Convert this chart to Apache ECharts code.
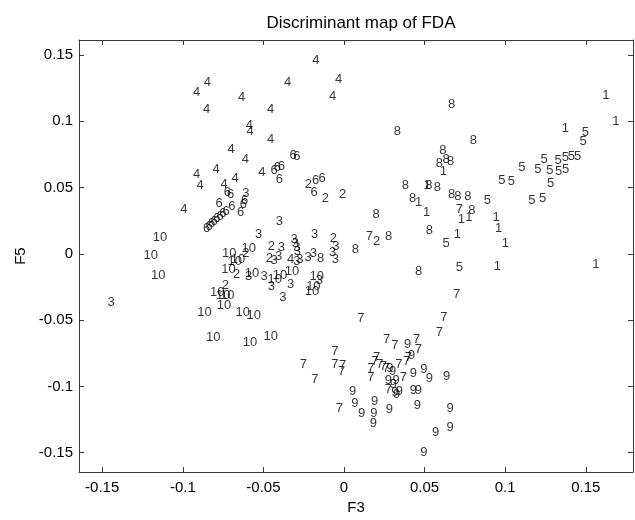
<!DOCTYPE html>
<html>
<head>
<meta charset="utf-8">
<title>Discriminant map of FDA</title>
<script src="https://cdn.jsdelivr.net/npm/echarts@6/dist/echarts.min.js"></script>
<style>
  html, body { margin: 0; padding: 0; width: 100%; height: 100%; background: #fff; }
  #chart { width: 635px; height: 520px; }
</style>
</head>
<body>
<div id="chart"></div>
<script>
// tick labels
var xTicks = [-0.15, -0.1, -0.05, 0, 0.05, 0.1, 0.15];
var yTicks = [-0.15, -0.1, -0.05, 0, 0.05, 0.1, 0.15];

// class names (drawn as text markers)
var classNames = ['1', '2', '3', '4', '5', '6', '7', '8', '9', '10'];

// [F3, F5] per class
var cls1 = [[0.1625,0.1193],[0.1687,0.0996],[0.1373,0.0946],[0.0616,0.0624],[0.0515,0.0515],
  [0.0463,0.0391],[0.0513,0.0316],[0.0728,0.0262],[0.0774,0.0272],[0.0703,0.0149],
  [0.0943,0.0277],[0.0960,0.0190],[0.1001,0.0079],[0.0951,-0.0094],[0.1563,-0.0082]];
var cls2 = [[-0.0221,0.0525],[-0.0116,0.0420],[-0.0008,0.0450],[-0.0066,0.0114],[-0.0451,0.0054],
  [-0.0608,0.0005],[-0.0463,-0.0035],[-0.0666,-0.0154],[-0.0736,-0.0238],[0.0203,0.0091]];
var cls3 = [[-0.0401,0.0247],[-0.0529,0.0143],[-0.0182,0.0149],[-0.0310,0.0108],[-0.0302,0.0079],
  [-0.0293,0.0049],[-0.0290,0.0017],[-0.0050,0.0054],[-0.0070,0.0010],[-0.0054,-0.0045],
  [-0.0389,0.0045],[-0.0434,-0.0050],[-0.0405,-0.0020],[-0.0293,-0.0059],[-0.0273,-0.0040],
  [-0.0223,-0.0030],[-0.0190,0.0000],[-0.0591,-0.0174],[-0.0496,-0.0174],[-0.0451,-0.0243],
  [-0.0331,-0.0233],[-0.0153,-0.0198],[-0.0380,-0.0332],[-0.1444,-0.0367],[-0.0608,0.0455]];
var cls4 = [[-0.0174,0.1461],[-0.0033,0.1315],[-0.0070,0.1189],[-0.0349,0.1293],[-0.0848,0.1293],
  [-0.0914,0.1218],[-0.0635,0.1181],[-0.0852,0.1087],[-0.0455,0.1087],[-0.0587,0.0966],
  [-0.0583,0.0926],[-0.0455,0.0864],[-0.0701,0.0785],[-0.0612,0.0710],[-0.0794,0.0641],
  [-0.0914,0.0599],[-0.0509,0.0617],[-0.0676,0.0567],[-0.0744,0.0522],[-0.0893,0.0519],
  [-0.0993,0.0337],[-0.0331,-0.0045]];
var cls5 = [[0.1497,0.0916],[0.1484,0.0847],[0.1241,0.0710],[0.1328,0.0703],[0.1373,0.0728],
  [0.1410,0.0736],[0.1450,0.0738],[0.1104,0.0654],[0.1203,0.0636],[0.1278,0.0629],
  [0.1332,0.0619],[0.1375,0.0636],[0.0980,0.0556],[0.1038,0.0545],[0.1282,0.0532],
  [0.0889,0.0406],[0.1166,0.0406],[0.1233,0.0421],[0.0633,0.0079],[0.0715,-0.0100]];
var cls6 = [[-0.0315,0.0743],[-0.0293,0.0733],[-0.0434,0.0629],[-0.0414,0.0654],[-0.0389,0.0663],
  [-0.0401,0.0565],[-0.0176,0.0554],[-0.0136,0.0569],[-0.0186,0.0465],[-0.0724,0.0461],
  [-0.0703,0.0450],[-0.0695,0.0361],[-0.0774,0.0381],[-0.0641,0.0312],[-0.0616,0.0406],
  [-0.0625,0.0376],[-0.0852,0.0190],[-0.0837,0.0210],[-0.0822,0.0229],[-0.0806,0.0247],
  [-0.0788,0.0266],[-0.0769,0.0285],[-0.0751,0.0303],[-0.0732,0.0318]];
var cls7 = [[0.0715,0.0337],[0.0157,0.0134],[0.0699,-0.0308],[0.0104,-0.0490],[0.0620,-0.0478],
  [0.0591,-0.0594],[0.0265,-0.0644],[0.0316,-0.0689],[0.0451,-0.0644],[0.0461,-0.0718],
  [0.0399,-0.0783],[0.0389,-0.0813],[-0.0056,-0.0738],[-0.0252,-0.0837],[-0.0056,-0.0832],
  [-0.0008,-0.0842],[-0.0014,-0.0887],[-0.0180,-0.0949],[0.0203,-0.0783],[0.0192,-0.0808],
  [0.0223,-0.0837],[0.0244,-0.0850],[0.0261,-0.0862],[0.0341,-0.0837],[0.0166,-0.0862],
  [0.0166,-0.0936],[0.0368,-0.0932],[0.0275,-0.1023],[-0.0029,-0.1169]];
var cls8 = [[-0.0145,-0.0035],[0.0668,0.1131],[0.0331,0.0921],[0.0802,0.0859],[0.0614,0.0780],
  [0.0633,0.0710],[0.0662,0.0698],[0.0591,0.0686],[0.0380,0.0515],[0.0527,0.0515],
  [0.0579,0.0500],[0.0668,0.0446],[0.0707,0.0435],[0.0769,0.0435],[0.0426,0.0416],
  [0.0794,0.0327],[0.0199,0.0297],[0.0529,0.0178],[0.0277,0.0134],[0.0070,0.0034],
  [0.0463,-0.0134]];
var cls9 = [[0.0395,-0.0681],[0.0420,-0.0768],[0.0285,-0.0862],[0.0302,-0.0887],[0.0430,-0.0906],
  [0.0496,-0.0874],[0.0529,-0.0941],[0.0637,-0.0926],[0.0275,-0.0956],[0.0323,-0.0956],
  [0.0306,-0.0986],[0.0316,-0.1048],[0.0327,-0.1060],[0.0343,-0.1040],[0.0430,-0.1030],
  [0.0461,-0.1030],[0.0054,-0.1036],[0.0190,-0.1114],[0.0068,-0.1129],[0.0110,-0.1204],
  [0.0186,-0.1204],[0.0182,-0.1278],[0.0281,-0.1174],[0.0455,-0.1147],[0.0658,-0.1166],
  [0.0658,-0.1313],[0.0569,-0.1348],[0.0496,-0.1496]];
var cls10 = [[-0.0591,0.0039],[-0.0712,0.0000],[-0.0678,-0.0055],[-0.0658,-0.0045],[-0.0716,-0.0114],
  [-0.0571,-0.0144],[-0.0430,-0.0193],[-0.0397,-0.0159],[-0.0323,-0.0129],[-0.0169,-0.0169],
  [-0.0190,-0.0243],[-0.0199,-0.0282],[-0.0786,-0.0293],[-0.0749,-0.0312],[-0.0724,-0.0317],
  [-0.0744,-0.0386],[-0.0865,-0.0440],[-0.0628,-0.0441],[-0.0560,-0.0466],[-0.0811,-0.0627],
  [-0.0583,-0.0669],[-0.0455,-0.0620],[-0.1141,0.0121],[-0.1199,-0.0015],[-0.1152,-0.0163]];

var classData = [cls1, cls2, cls3, cls4, cls5, cls6, cls7, cls8, cls9, cls10];

var X_MIN = -0.1644, X_MAX = 0.1793;
var Y_MIN = -0.1647, Y_MAX = 0.1614;

var chart = echarts.init(document.getElementById('chart'));

var FONT = 'Liberation Sans, Arial, sans-serif';
var axisColor = '#3a3a3a';

function frameAxis(pos, isX, main) {
  var a = {
    type: 'value',
    position: pos,
    min: isX ? X_MIN : Y_MIN,
    max: isX ? X_MAX : Y_MAX,
    axisLine: { show: true, onZero: false, lineStyle: { color: axisColor, width: 1 } },
    axisTick: { show: true, inside: true, length: 5, customValues: isX ? xTicks : yTicks,
                lineStyle: { color: axisColor } },
    axisLabel: { show: main, customValues: isX ? xTicks : yTicks, margin: isX ? 8 : 6,
                 color: '#000', fontSize: 15, fontFamily: FONT },
    splitLine: { show: false }
  };
  if (main) {
    a.name = isX ? 'F3' : 'F5';
    a.nameLocation = 'middle';
    a.nameGap = isX ? 24 : 50;
    a.nameTextStyle = { color: '#000', fontSize: 15, fontFamily: FONT };
  }
  return a;
}

var series = classNames.map(function (name, i) {
  return {
    type: 'scatter',
    name: name,
    symbol: 'circle',
    symbolSize: 2,
    itemStyle: { color: 'rgba(0,0,0,0)' },
    label: {
      show: true,
      position: 'inside',
      formatter: name,
      color: '#000',
      fontSize: 13,
      fontFamily: FONT
    },
    labelLayout: { hideOverlap: false },
    data: classData[i]
  };
});

chart.setOption({
  animation: false,
  backgroundColor: '#ffffff',
  title: {
    text: 'Discriminant map of FDA',
    left: 356,
    textAlign: 'center',
    top: 10,
    textStyle: { color: '#000', fontSize: 17, fontWeight: 'normal', fontFamily: FONT }
  },
  grid: { left: 79, right: 2, top: 40, bottom: 41 },
  xAxis: [frameAxis('bottom', true, true), frameAxis('top', true, false)],
  yAxis: [frameAxis('left', false, true), frameAxis('right', false, false)],
  series: series
});
</script>
</body>
</html>
